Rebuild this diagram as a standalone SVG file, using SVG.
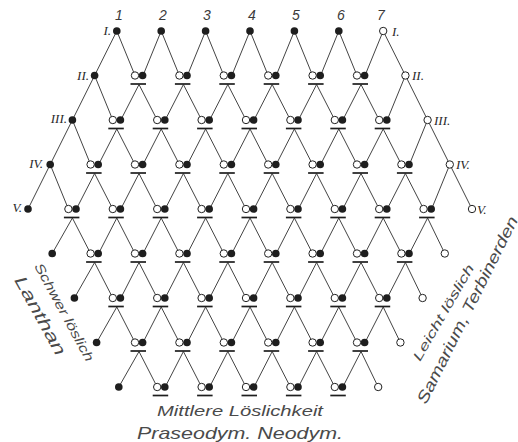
<svg xmlns="http://www.w3.org/2000/svg" width="518" height="442" viewBox="0 0 518 442">
<style>
.lbl{font-family:"Liberation Sans",Arial,sans-serif;font-style:italic;fill:#4a4a4a}
.rom{font-family:"Liberation Serif","Times New Roman",serif;font-style:italic;font-size:13px;fill:#2a2a2a}
.num{font-family:"Liberation Sans",Arial,sans-serif;font-style:italic;font-size:14px;fill:#3a3a3a;text-anchor:middle}
</style>
<defs>
<g id="pair"><circle cx="-4" cy="0" r="3.7" fill="#fff" stroke="#222" stroke-width="1"/><circle cx="3.6" cy="0" r="3.8" fill="#1e1e1e"/><line x1="-8.5" y1="8.5" x2="7" y2="8.5" stroke="#1e1e1e" stroke-width="1.7"/></g>
<circle id="fd" r="3.8" fill="#1e1e1e"/>
<circle id="od" r="3.7" fill="#fff" stroke="#222" stroke-width="1"/>
<path id="dd" d="M0 0l-18.2 44.5M0 0l18.2 44.5"/>
<path id="dL" d="M0 0l-22.2 44.5M0 0l18.2 44.5"/>
<path id="dR" d="M0 0l-18.2 44.5M0 0l22.2 44.5"/>
<path id="pp" d="M0 9l-18.2 35.5M0 9l18.2 35.5"/>
<path id="pL" d="M0 9l-20.2 35.5M0 9l18.2 35.5"/>
<path id="pR" d="M0 9l-18.2 35.5M0 9l17.2 35.5"/>
</defs>
<rect width="518" height="442" fill="#fff"/>
<g id="connectors" stroke="#444" stroke-width="1" fill="none">
<use href="#dL" x="116.8" y="31"/><use href="#dd" x="161.2" y="31"/><use href="#dd" x="205.6" y="31"/><use href="#dd" x="250" y="31"/><use href="#dd" x="294.4" y="31"/><use href="#dd" x="338.8" y="31"/><use href="#dR" x="383.2" y="31"/>
<use href="#dL" x="94.6" y="75.5"/><use href="#pp" x="139" y="75.5"/><use href="#pp" x="183.4" y="75.5"/><use href="#pp" x="227.8" y="75.5"/><use href="#pp" x="272.2" y="75.5"/><use href="#pp" x="316.6" y="75.5"/><use href="#pp" x="361" y="75.5"/><use href="#dR" x="405.4" y="75.5"/>
<use href="#dL" x="72.4" y="120"/><use href="#pp" x="116.8" y="120"/><use href="#pp" x="161.2" y="120"/><use href="#pp" x="205.6" y="120"/><use href="#pp" x="250" y="120"/><use href="#pp" x="294.4" y="120"/><use href="#pp" x="338.8" y="120"/><use href="#pp" x="383.2" y="120"/><use href="#dR" x="427.6" y="120"/>
<use href="#dL" x="50.2" y="164.5"/><use href="#pp" x="94.6" y="164.5"/><use href="#pp" x="139" y="164.5"/><use href="#pp" x="183.4" y="164.5"/><use href="#pp" x="227.8" y="164.5"/><use href="#pp" x="272.2" y="164.5"/><use href="#pp" x="316.6" y="164.5"/><use href="#pp" x="361" y="164.5"/><use href="#pp" x="405.4" y="164.5"/><use href="#dR" x="449.8" y="164.5"/>
<use href="#pL" x="72.4" y="209"/><use href="#pp" x="116.8" y="209"/><use href="#pp" x="161.2" y="209"/><use href="#pp" x="205.6" y="209"/><use href="#pp" x="250" y="209"/><use href="#pp" x="294.4" y="209"/><use href="#pp" x="338.8" y="209"/><use href="#pp" x="383.2" y="209"/><use href="#pR" x="427.6" y="209"/>
<use href="#pL" x="94.6" y="253.5"/><use href="#pp" x="139" y="253.5"/><use href="#pp" x="183.4" y="253.5"/><use href="#pp" x="227.8" y="253.5"/><use href="#pp" x="272.2" y="253.5"/><use href="#pp" x="316.6" y="253.5"/><use href="#pp" x="361" y="253.5"/><use href="#pR" x="405.4" y="253.5"/>
<use href="#pL" x="116.8" y="298"/><use href="#pp" x="161.2" y="298"/><use href="#pp" x="205.6" y="298"/><use href="#pp" x="250" y="298"/><use href="#pp" x="294.4" y="298"/><use href="#pp" x="338.8" y="298"/><use href="#pR" x="383.2" y="298"/>
<use href="#pL" x="139" y="342.5"/><use href="#pp" x="183.4" y="342.5"/><use href="#pp" x="227.8" y="342.5"/><use href="#pp" x="272.2" y="342.5"/><use href="#pp" x="316.6" y="342.5"/><use href="#pR" x="361" y="342.5"/>
</g>
<g id="nodes">
<g id="n1-1"><use href="#fd" x="116.8" y="31"/></g>
<g id="n1-2"><use href="#fd" x="161.2" y="31"/></g>
<g id="n1-3"><use href="#fd" x="205.6" y="31"/></g>
<g id="n1-4"><use href="#fd" x="250" y="31"/></g>
<g id="n1-5"><use href="#fd" x="294.4" y="31"/></g>
<g id="n1-6"><use href="#fd" x="338.8" y="31"/></g>
<g id="n1-7"><use href="#od" x="383.2" y="31"/></g>
<g id="n2-1"><use href="#fd" x="94.6" y="75.5"/></g>
<g id="n2-2"><use href="#pair" x="139" y="75.5"/></g>
<g id="n2-3"><use href="#pair" x="183.4" y="75.5"/></g>
<g id="n2-4"><use href="#pair" x="227.8" y="75.5"/></g>
<g id="n2-5"><use href="#pair" x="272.2" y="75.5"/></g>
<g id="n2-6"><use href="#pair" x="316.6" y="75.5"/></g>
<g id="n2-7"><use href="#pair" x="361" y="75.5"/></g>
<g id="n2-8"><use href="#od" x="405.4" y="75.5"/></g>
<g id="n3-1"><use href="#fd" x="72.4" y="120"/></g>
<g id="n3-2"><use href="#pair" x="116.8" y="120"/></g>
<g id="n3-3"><use href="#pair" x="161.2" y="120"/></g>
<g id="n3-4"><use href="#pair" x="205.6" y="120"/></g>
<g id="n3-5"><use href="#pair" x="250" y="120"/></g>
<g id="n3-6"><use href="#pair" x="294.4" y="120"/></g>
<g id="n3-7"><use href="#pair" x="338.8" y="120"/></g>
<g id="n3-8"><use href="#pair" x="383.2" y="120"/></g>
<g id="n3-9"><use href="#od" x="427.6" y="120"/></g>
<g id="n4-1"><use href="#fd" x="50.2" y="164.5"/></g>
<g id="n4-2"><use href="#pair" x="94.6" y="164.5"/></g>
<g id="n4-3"><use href="#pair" x="139" y="164.5"/></g>
<g id="n4-4"><use href="#pair" x="183.4" y="164.5"/></g>
<g id="n4-5"><use href="#pair" x="227.8" y="164.5"/></g>
<g id="n4-6"><use href="#pair" x="272.2" y="164.5"/></g>
<g id="n4-7"><use href="#pair" x="316.6" y="164.5"/></g>
<g id="n4-8"><use href="#pair" x="361" y="164.5"/></g>
<g id="n4-9"><use href="#pair" x="405.4" y="164.5"/></g>
<g id="n4-10"><use href="#od" x="449.8" y="164.5"/></g>
<g id="n5-1"><use href="#fd" x="28" y="209"/></g>
<g id="n5-2"><use href="#pair" x="72.4" y="209"/></g>
<g id="n5-3"><use href="#pair" x="116.8" y="209"/></g>
<g id="n5-4"><use href="#pair" x="161.2" y="209"/></g>
<g id="n5-5"><use href="#pair" x="205.6" y="209"/></g>
<g id="n5-6"><use href="#pair" x="250" y="209"/></g>
<g id="n5-7"><use href="#pair" x="294.4" y="209"/></g>
<g id="n5-8"><use href="#pair" x="338.8" y="209"/></g>
<g id="n5-9"><use href="#pair" x="383.2" y="209"/></g>
<g id="n5-10"><use href="#pair" x="427.6" y="209"/></g>
<g id="n5-11"><use href="#od" x="472" y="209"/></g>
<g id="n6-1"><use href="#fd" x="52.2" y="253.5"/></g>
<g id="n6-2"><use href="#pair" x="94.6" y="253.5"/></g>
<g id="n6-3"><use href="#pair" x="139" y="253.5"/></g>
<g id="n6-4"><use href="#pair" x="183.4" y="253.5"/></g>
<g id="n6-5"><use href="#pair" x="227.8" y="253.5"/></g>
<g id="n6-6"><use href="#pair" x="272.2" y="253.5"/></g>
<g id="n6-7"><use href="#pair" x="316.6" y="253.5"/></g>
<g id="n6-8"><use href="#pair" x="361" y="253.5"/></g>
<g id="n6-9"><use href="#pair" x="405.4" y="253.5"/></g>
<g id="n6-10"><use href="#od" x="444.8" y="253.5"/></g>
<g id="n7-1"><use href="#fd" x="74.4" y="298"/></g>
<g id="n7-2"><use href="#pair" x="116.8" y="298"/></g>
<g id="n7-3"><use href="#pair" x="161.2" y="298"/></g>
<g id="n7-4"><use href="#pair" x="205.6" y="298"/></g>
<g id="n7-5"><use href="#pair" x="250" y="298"/></g>
<g id="n7-6"><use href="#pair" x="294.4" y="298"/></g>
<g id="n7-7"><use href="#pair" x="338.8" y="298"/></g>
<g id="n7-8"><use href="#pair" x="383.2" y="298"/></g>
<g id="n7-9"><use href="#od" x="422.6" y="298"/></g>
<g id="n8-1"><use href="#fd" x="96.6" y="342.5"/></g>
<g id="n8-2"><use href="#pair" x="139" y="342.5"/></g>
<g id="n8-3"><use href="#pair" x="183.4" y="342.5"/></g>
<g id="n8-4"><use href="#pair" x="227.8" y="342.5"/></g>
<g id="n8-5"><use href="#pair" x="272.2" y="342.5"/></g>
<g id="n8-6"><use href="#pair" x="316.6" y="342.5"/></g>
<g id="n8-7"><use href="#pair" x="361" y="342.5"/></g>
<g id="n8-8"><use href="#od" x="400.4" y="342.5"/></g>
<g id="n9-1"><use href="#fd" x="118.8" y="387"/></g>
<g id="n9-2"><use href="#pair" x="161.2" y="387"/></g>
<g id="n9-3"><use href="#pair" x="205.6" y="387"/></g>
<g id="n9-4"><use href="#pair" x="250" y="387"/></g>
<g id="n9-5"><use href="#pair" x="294.4" y="387"/></g>
<g id="n9-6"><use href="#pair" x="338.8" y="387"/></g>
<g id="n9-7"><use href="#od" x="378.2" y="387"/></g>
</g>
<g id="labels">
<text class="num" x="119" y="20">1</text>
<text class="num" x="163" y="20">2</text>
<text class="num" x="207" y="20">3</text>
<text class="num" x="252" y="20">4</text>
<text class="num" x="296" y="20">5</text>
<text class="num" x="341" y="20">6</text>
<text class="num" x="381" y="20">7</text>
<text class="rom" x="111" y="35" text-anchor="end">I.</text>
<text class="rom" x="89" y="80" text-anchor="end">II.</text>
<text class="rom" x="67" y="123" text-anchor="end">III.</text>
<text class="rom" x="43" y="168" text-anchor="end">IV.</text>
<text class="rom" x="22" y="212" text-anchor="end">V.</text>
<text class="rom" x="392" y="36">I.</text>
<text class="rom" x="412" y="80">II.</text>
<text class="rom" x="434" y="125">III.</text>
<text class="rom" x="456" y="169">IV.</text>
<text class="rom" x="477" y="214">V.</text>
<text class="lbl" font-size="13" transform="translate(34,266) rotate(61.5)" textLength="110" lengthAdjust="spacingAndGlyphs">Schwer löslich</text>
<text class="lbl" font-size="17" transform="translate(14,280) rotate(61)" textLength="88" lengthAdjust="spacingAndGlyphs">Lanthan</text>
<text class="lbl" font-size="13" transform="translate(420,362) rotate(-60)" textLength="109" lengthAdjust="spacingAndGlyphs">Leicht löslich</text>
<text class="lbl" font-size="16" transform="translate(426,405) rotate(-63.5)" textLength="207" lengthAdjust="spacingAndGlyphs">Samarium, Terbinerden</text>
<text class="lbl" font-size="15" x="157" y="416" textLength="166" lengthAdjust="spacingAndGlyphs">Mittlere Löslichkeit</text>
<text class="lbl" font-size="17" x="137" y="439" textLength="206" lengthAdjust="spacingAndGlyphs">Praseodym. Neodym.</text>
</g>
</svg>
